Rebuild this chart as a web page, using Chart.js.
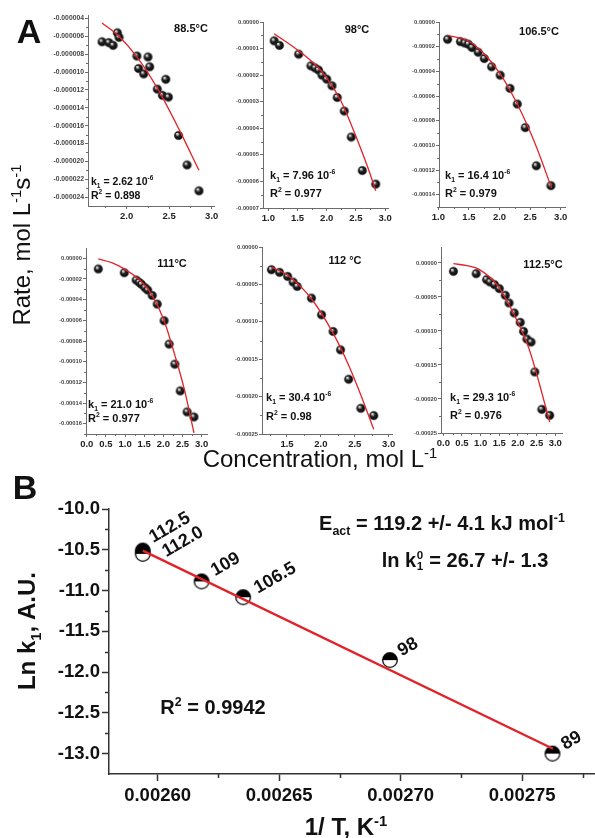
<!DOCTYPE html>
<html><head><meta charset="utf-8"><title>Rate vs concentration and Arrhenius plot</title>
<script src="https://cdn.jsdelivr.net/npm/chart.js@4.4.1/dist/chart.umd.min.js"></script>
<style>
html,body{margin:0;padding:0;background:#fff;width:595px;height:838px;overflow:hidden;position:relative;}
canvas{position:absolute;}
.t{position:absolute;font-family:"Liberation Sans",Arial,Helvetica,sans-serif;color:#111;white-space:nowrap;line-height:1;}
.t sup,.t sub{font-size:0.62em;line-height:0;}
.b{font-weight:bold;}
.ss{display:inline-block;vertical-align:-0.25em;font-size:0.58em;line-height:0.95;margin:0 0.05em;}
.ss span{display:block;}
</style></head><body>
<script>
// ---------------- DATA ----------------
// Panel A1: 88.5 °C
const p1Conc = [1.71,1.79,1.84,1.89,1.91,2.12,2.14,2.20,2.25,2.27,2.36,2.42,2.46,2.49,2.61,2.71,2.85];
const p1Rate = [-6.6e-6,-6.7e-6,-7.0e-6,-5.6e-6,-6.1e-6,-8.2e-6,-9.6e-6,-10.2e-6,-8.3e-6,-9.4e-6,-11.9e-6,-12.6e-6,-10.8e-6,-12.8e-6,-17.1e-6,-20.4e-6,-23.3e-6];
const p1FitConc = [1.71,1.90,2.12,2.36,2.61,2.85];
const p1FitRate = [-4.5e-6,-5.9e-6,-8.3e-6,-11.8e-6,-16.3e-6,-21.0e-6];
const p1XTicks = [2.0,2.5,3.0];
const p1YTicks = [-0.000004,-0.000006,-0.000008,-0.000010,-0.000012,-0.000014,-0.000016,-0.000018,-0.000020,-0.000022,-0.000024];

// Panel A2: 98 °C
const p2Conc = [1.10,1.19,1.52,1.73,1.80,1.86,1.92,2.00,2.09,2.18,2.30,2.42,2.61,2.84];
const p2Rate = [-0.71e-5,-0.88e-5,-1.21e-5,-1.65e-5,-1.73e-5,-1.81e-5,-2.00e-5,-2.15e-5,-2.40e-5,-2.84e-5,-3.35e-5,-4.33e-5,-5.59e-5,-6.10e-5];
const p2FitConc = [1.10,1.50,1.80,2.00,2.25,2.50,2.70,2.84];
const p2FitRate = [-0.44e-5,-1.05e-5,-1.60e-5,-2.10e-5,-3.00e-5,-4.30e-5,-5.45e-5,-6.35e-5];
const p2XTicks = [1.0,1.5,2.0,2.5,3.0];
const p2YTicks = [0,-0.00001,-0.00002,-0.00003,-0.00004,-0.00005,-0.00006,-0.00007];

// Panel A3: 106.5 °C
const p3Conc = [1.15,1.36,1.43,1.49,1.55,1.65,1.75,1.87,2.01,2.17,2.29,2.42,2.60,2.84];
const p3Rate = [-1.40e-5,-1.59e-5,-1.70e-5,-1.80e-5,-2.07e-5,-2.45e-5,-2.96e-5,-3.63e-5,-4.31e-5,-5.38e-5,-6.65e-5,-8.56e-5,-11.66e-5,-13.27e-5];
const p3FitConc = [1.15,1.50,1.76,2.01,2.29,2.60,2.85];
const p3FitRate = [-1.08e-5,-1.56e-5,-2.64e-5,-4.20e-5,-6.65e-5,-10.09e-5,-13.46e-5];
const p3XTicks = [1.0,1.5,2.0,2.5,3.0];
const p3YTicks = [0,-0.00002,-0.00004,-0.00006,-0.00008,-0.00010,-0.00012,-0.00014];

// Panel A4: 111 °C
const p4Conc = [0.30,0.98,1.29,1.37,1.43,1.52,1.59,1.71,1.84,2.02,2.15,2.30,2.44,2.62,2.80];
const p4Rate = [-1.03e-5,-1.39e-5,-2.10e-5,-2.33e-5,-2.52e-5,-2.84e-5,-3.07e-5,-3.59e-5,-4.43e-5,-6.04e-5,-8.30e-5,-10.24e-5,-12.83e-5,-14.86e-5,-15.35e-5];
const p4FitConc = [0.30,0.65,1.00,1.43,1.71,2.02,2.30,2.55,2.80];
const p4FitRate = [-0.06e-5,-0.42e-5,-1.07e-5,-2.26e-5,-3.59e-5,-6.04e-5,-9.37e-5,-12.70e-5,-16.90e-5];
const p4XTicks = [0.0,0.5,1.0,1.5,2.0,2.5,3.0];
const p4YTicks = [0,-0.00002,-0.00004,-0.00006,-0.00008,-0.00010,-0.00012,-0.00014,-0.00016];

// Panel A5: 112 °C
const p5Conc = [1.27,1.39,1.51,1.59,1.65,1.86,2.01,2.18,2.29,2.41,2.59,2.78];
const p5Rate = [-3.04e-5,-3.39e-5,-3.93e-5,-4.69e-5,-5.27e-5,-6.83e-5,-9.06e-5,-11.29e-5,-13.75e-5,-17.68e-5,-21.56e-5,-22.54e-5];
const p5FitConc = [1.27,1.51,1.86,2.18,2.41,2.59,2.78];
const p5FitRate = [-2.68e-5,-3.79e-5,-6.92e-5,-11.52e-5,-15.80e-5,-19.78e-5,-24.38e-5];
const p5XTicks = [1.5,2.0,2.5,3.0];
const p5YTicks = [0,-0.00005,-0.00010,-0.00015,-0.00020,-0.00025];

// Panel A6: 112.5 °C
const p6Conc = [0.27,0.88,1.16,1.25,1.37,1.50,1.66,1.76,1.90,2.06,2.15,2.24,2.35,2.45,2.64,2.85];
const p6Rate = [-1.23e-5,-1.57e-5,-2.45e-5,-2.79e-5,-3.19e-5,-3.77e-5,-4.75e-5,-5.88e-5,-7.35e-5,-8.73e-5,-10.05e-5,-11.18e-5,-11.62e-5,-16.03e-5,-21.52e-5,-22.40e-5];
const p6FitConc = [0.27,0.63,0.97,1.48,1.97,2.28,2.48,2.64,2.85];
const p6FitRate = [-0.10e-5,-0.39e-5,-0.98e-5,-3.53e-5,-8.43e-5,-12.35e-5,-15.90e-5,-19.10e-5,-23.38e-5];
const p6XTicks = [0.0,0.5,1.0,1.5,2.0,2.5,3.0];
const p6YTicks = [0,-0.00005,-0.00010,-0.00015,-0.00020,-0.00025];

// Panel B: Arrhenius plot
const bLabels = ['112.5','112.0','109','106.5','98','89'];
const bInvT = [0.0025939,0.0025939,0.0026181,0.0026352,0.0026956,0.0027625];
const bLnK = [-10.51,-10.55,-10.888,-11.082,-11.853,-13.00];
const bFitInvT = [0.0025939,0.0027627];
const bFitLnK = [-10.51,-12.94];
const bXTicks = [0.00260,0.00265,0.00270,0.00275];
const bYTicks = [-10.0,-10.5,-11.0,-11.5,-12.0,-12.5,-13.0];

// ---------------- STYLE / HELPERS ----------------
const RED = '#e1232b';
const AX = '#6c6c6c';
const FONT = '"Liberation Sans", Arial, Helvetica, sans-serif';

function mids(a){const o=[];for(let i=0;i<a.length-1;i++)o.push((a[i]+a[i+1])/2);return o;}
function pts(xs,ys){return xs.map((x,i)=>({x:x,y:ys[i]}));}

function sphere(r){
  const s=Math.ceil(r*2)+2,c=document.createElement('canvas');c.width=c.height=s;
  const g=c.getContext('2d'),m=s/2;
  const gr=g.createRadialGradient(m-r*0.35,m-r*0.42,r*0.05,m,m,r);
  gr.addColorStop(0,'#ffffff');gr.addColorStop(0.2,'#a8a8a8');gr.addColorStop(0.45,'#262626');gr.addColorStop(1,'#000000');
  g.fillStyle=gr;g.beginPath();g.arc(m,m,r,0,Math.PI*2);g.fill();
  g.strokeStyle='rgba(60,60,60,0.8)';g.lineWidth=0.6;g.stroke();
  return c;
}
function halfDot(r){
  const s=Math.ceil(r*2)+3,c=document.createElement('canvas');c.width=c.height=s;
  const g=c.getContext('2d'),m=s/2;
  g.fillStyle='#fff';g.beginPath();g.arc(m,m,r,0,Math.PI*2);g.fill();
  g.fillStyle='#000';g.beginPath();g.arc(m,m,r,Math.PI,2*Math.PI);g.closePath();g.fill();
  g.strokeStyle='#000';g.lineWidth=1.3;g.beginPath();g.arc(m,m,r,0,Math.PI*2);g.stroke();
  return c;
}

const minorTicks={
  id:'minorTicks',
  afterDraw(chart,args,o){
    if(!o||!o.len)return;
    const ctx=chart.ctx;ctx.save();ctx.strokeStyle=o.color;ctx.lineWidth=o.width;ctx.beginPath();
    const sx=chart.scales.x,sy=chart.scales.y;
    (o.x||[]).forEach(v=>{const p=Math.round(sx.getPixelForValue(v))+0.5;ctx.moveTo(p,sx.top);ctx.lineTo(p,sx.top+o.len);});
    (o.y||[]).forEach(v=>{const p=Math.round(sy.getPixelForValue(v))+0.5;ctx.moveTo(sy.right,p);ctx.lineTo(sy.right-o.len,p);});
    ctx.stroke();ctx.restore();
  }
};
const pointLabels={
  id:'pointLabels',
  afterDatasetsDraw(chart,args,o){
    if(!o||!o.labels)return;
    const meta=chart.getDatasetMeta(o.datasetIndex),ctx=chart.ctx;
    ctx.save();ctx.font=o.font;ctx.fillStyle=o.color;ctx.textAlign='center';ctx.textBaseline='middle';
    meta.data.forEach((el,i)=>{
      const off=o.offsets[i];
      ctx.save();ctx.translate(el.x+off[0],el.y+off[1]);ctx.rotate(o.angle*Math.PI/180);ctx.fillText(o.labels[i],0,0);ctx.restore();
    });
    ctx.restore();
  }
};

function makeChart(s){
  const left=s.l-s.yw,top=s.t-s.pt;
  const cw=s.yw+(s.r-s.l)+s.pr,ch=s.pt+(s.b-s.t)+s.xh;
  const c=document.createElement('canvas');
  c.width=cw;c.height=ch;c.style.left=left+'px';c.style.top=top+'px';c.style.width=cw+'px';c.style.height=ch+'px';
  document.body.appendChild(c);
  const axis=(which)=>{
    const a=s[which];
    return {
      type:'linear',min:a.min,max:a.max,
      afterBuildTicks:sc=>{sc.ticks=a.ticks.map(v=>({value:v}));},
      afterFit:sc=>{if(which==='x')sc.height=s.xh;else sc.width=s.yw;},
      grid:{display:true,drawOnChartArea:false,drawTicks:true,tickLength:s.tickLen,tickColor:s.axisColor,tickWidth:s.axisWidth},
      border:{display:true,color:s.axisColor,width:s.axisWidth},
      ticks:{autoSkip:false,maxRotation:0,minRotation:0,padding:a.pad,color:a.color,
        font:{family:FONT,size:a.size,weight:'bold'},callback:v=>Number(v).toFixed(a.dec)}
    };
  };
  return new Chart(c,{
    type:'scatter',
    data:{datasets:s.datasets},
    options:{
      responsive:false,maintainAspectRatio:false,animation:false,events:[],devicePixelRatio:1,
      layout:{padding:{top:s.pt,right:s.pr,left:0,bottom:0}},
      plugins:{legend:{display:false},tooltip:{enabled:false},
        minorTicks:s.minor,pointLabels:s.labels||{}},
      scales:{x:axis('x'),y:axis('y')}
    },
    plugins:[minorTicks,pointLabels]
  });
}

const ball=sphere(4.3);
function smallPanel(box,conc,rate,fc,fr,xt,yt,xr,yr,ydec,ysize,xminor,yminor){
  makeChart({
    l:box[0],t:box[1],r:box[2],b:box[3],yw:60,xh:22,pt:8,pr:10,tickLen:3,axisColor:AX,axisWidth:1,
    x:{min:xr[0],max:xr[1],ticks:xt,dec:1,size:9.5,color:'#222',pad:2},
    y:{min:yr[0],max:yr[1],ticks:yt,dec:ydec,size:ysize,color:'#444',pad:1},
    minor:{x:xminor,y:yminor,len:2,color:AX,width:1},
    datasets:[
      {type:'scatter',data:pts(fc,fr),showLine:true,borderColor:RED,borderWidth:1.3,pointRadius:0,cubicInterpolationMode:'monotone',fill:false,clip:false},
      {type:'scatter',data:pts(conc,rate),pointStyle:ball,pointRadius:4.3,showLine:false,clip:false}
    ]
  });
}

smallPanel([88,15,214,206],p1Conc,p1Rate,p1FitConc,p1FitRate,p1XTicks,p1YTicks,[1.545,3.027],[-0.000025,-0.0000036],6,6.8,[1.75,2.25,2.75],mids(p1YTicks));
smallPanel([263,22,388,208],p2Conc,p2Rate,p2FitConc,p2FitRate,p2XTicks,p2YTicks,[0.909,3.05],[-0.00007,0],5,5.8,mids(p2XTicks),mids(p2YTicks));
smallPanel([439,22,565,207],p3Conc,p3Rate,p3FitConc,p3FitRate,p3XTicks,p3YTicks,[1.01,3.07],[-0.00015,0],5,5.8,mids(p3XTicks),mids(p3YTicks).concat([-0.00015]));
smallPanel([86,248,207,434],p4Conc,p4Rate,p4FitConc,p4FitRate,p4XTicks,p4YTicks,[-0.02,3.14],[-0.00017,0.00001],5,5.8,mids(p4XTicks),mids(p4YTicks).concat([-0.00017])); 
smallPanel([262,247,392,434],p5Conc,p5Rate,p5FitConc,p5FitRate,p5XTicks,p5YTicks,[1.131,3.05],[-0.00025,0],5,5.8,[1.25].concat(mids(p5XTicks)),mids(p5YTicks));
smallPanel([441,247,562,433],p6Conc,p6Rate,p6FitConc,p6FitRate,p6XTicks,p6YTicks,[-0.062,3.18],[-0.00025,0.0000235],5,5.8,mids(p6XTicks),mids(p6YTicks));

makeChart({
  l:109,t:509,r:595,b:774,yw:109,xh:64,pt:14,pr:14,tickLen:7,axisColor:'#333',axisWidth:1.5,
  x:{min:0.00258,max:0.00278,ticks:bXTicks,dec:5,size:18.5,color:'#111',pad:4},
  y:{min:-13.25,max:-10.0,ticks:bYTicks,dec:1,size:18.5,color:'#111',pad:2},
  minor:{x:[0.002625,0.002675,0.002725,0.002775],y:mids(bYTicks),len:4,color:'#333',width:1.5},
  labels:{datasetIndex:1,labels:bLabels,offsets:[[27,-23],[40,-12],[24,-17],[32,-19],[18,-13],[19,-13]],angle:-30,font:'bold 18px '+FONT,color:'#111'},
  datasets:[
    {type:'scatter',data:pts(bFitInvT,bFitLnK),showLine:true,borderColor:RED,borderWidth:2.4,pointRadius:0,fill:false,clip:false},
    {type:'scatter',data:pts(bInvT,bLnK),pointStyle:halfDot(7.3),pointRadius:7.3,showLine:false,clip:false}
  ]
});

// ---------------- TEXT ----------------
function txt(html,x,y,cls,size,anchor,rot){
  const d=document.createElement('div');
  d.className='t '+(cls||'');d.style.fontSize=size+'px';d.innerHTML=html;
  d.style.left=x+'px';d.style.top=y+'px';
  const tx=anchor==='left'?'0':'-50%';
  d.style.transform='translate('+tx+',-50%)'+(rot?' rotate('+rot+'deg)':'');
  document.body.appendChild(d);
}
txt('A',29,31,'b',34);
txt('B',25,487,'b',34);
txt('Rate, mol L<sup>-1</sup>s<sup>-1</sup>',22,245,'',24,'center',-90);
txt('Concentration, mol L<sup>-1</sup>',320,459,'',24);

txt('88.5°C',191,28,'b',11);
txt('k<sub>1</sub> = 2.62 10<sup>-6</sup>',91,181,'b',10.5,'left');
txt('R<sup>2</sup> = 0.898',91,195,'b',10.5,'left');
txt('98°C',357,29,'b',11);
txt('k<sub>1</sub> = 7.96 10<sup>-6</sup>',270,175,'b',11,'left');
txt('R<sup>2</sup> = 0.977',270,193,'b',11,'left');
txt('106.5°C',539,31,'b',11);
txt('k<sub>1</sub> = 16.4 10<sup>-6</sup>',445,175,'b',11,'left');
txt('R<sup>2</sup> = 0.979',445,193,'b',11,'left');
txt('111°C',172,263,'b',11);
txt('k<sub>1</sub> = 21.0 10<sup>-6</sup>',88,404,'b',11,'left');
txt('R<sup>2</sup> = 0.977',88,418,'b',11,'left');
txt('112 °C',345,260,'b',11);
txt('k<sub>1</sub> = 30.4 10<sup>-6</sup>',266,397,'b',11,'left');
txt('R<sup>2</sup> = 0.98',266,416,'b',11,'left');
txt('112.5°C',543,264,'b',11);
txt('k<sub>1</sub> = 29.3 10<sup>-6</sup>',450,397,'b',11,'left');
txt('R<sup>2</sup> = 0.976',450,415,'b',11,'left');

txt('E<sub>act</sub> = 119.2 +/- 4.1 kJ mol<sup>-1</sup>',442,523,'b',20);
txt('ln k<span class="ss"><span>0</span><span>1</span></span> = 26.7 +/- 1.3',465,560,'b',20);
txt('R<sup>2</sup> = 0.9942',213,707,'b',20);
txt('Ln k<sub>1</sub>, A.U.',27,631,'b',24,'center',-90);
txt('1/ T, K<sup>-1</sup>',346,827,'b',24);
</script>
</body></html>
